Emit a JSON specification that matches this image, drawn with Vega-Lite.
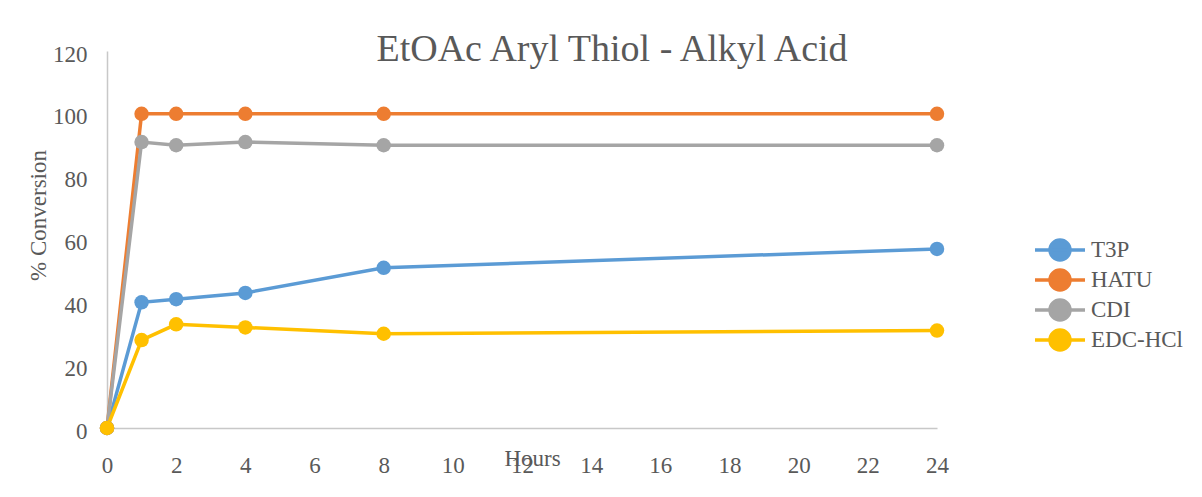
{
  "$schema": "https://vega.github.io/schema/vega-lite/v6.json",
  "autosize": "none",
  "width": 830,
  "height": 377,
  "padding": {"left": 107, "top": 51, "right": 265, "bottom": 69},
  "background": "white",
  "title": {
    "text": "EtOAc Aryl Thiol - Alkyl Acid",
    "font": "Liberation Serif",
    "fontSize": 38,
    "fontWeight": "normal",
    "color": "#595959",
    "anchor": "middle",
    "dx": 90,
    "offset": -26
  },
  "config": {
    "view": {"stroke": null},
    "font": "Liberation Serif"
  },
  "data": {
    "values": [
      {"hours": 0, "value": 0, "reagent": "T3P"},
      {"hours": 1, "value": 40, "reagent": "T3P"},
      {"hours": 2, "value": 41, "reagent": "T3P"},
      {"hours": 4, "value": 43, "reagent": "T3P"},
      {"hours": 8, "value": 51, "reagent": "T3P"},
      {"hours": 24, "value": 57, "reagent": "T3P"},
      {"hours": 0, "value": 0, "reagent": "HATU"},
      {"hours": 1, "value": 100, "reagent": "HATU"},
      {"hours": 2, "value": 100, "reagent": "HATU"},
      {"hours": 4, "value": 100, "reagent": "HATU"},
      {"hours": 8, "value": 100, "reagent": "HATU"},
      {"hours": 24, "value": 100, "reagent": "HATU"},
      {"hours": 0, "value": 0, "reagent": "CDI"},
      {"hours": 1, "value": 91, "reagent": "CDI"},
      {"hours": 2, "value": 90, "reagent": "CDI"},
      {"hours": 4, "value": 91, "reagent": "CDI"},
      {"hours": 8, "value": 90, "reagent": "CDI"},
      {"hours": 24, "value": 90, "reagent": "CDI"},
      {"hours": 0, "value": 0, "reagent": "EDC-HCl"},
      {"hours": 1, "value": 28, "reagent": "EDC-HCl"},
      {"hours": 2, "value": 33, "reagent": "EDC-HCl"},
      {"hours": 4, "value": 32, "reagent": "EDC-HCl"},
      {"hours": 8, "value": 30, "reagent": "EDC-HCl"},
      {"hours": 24, "value": 31, "reagent": "EDC-HCl"}
    ]
  },
  "encoding": {
    "x": {
      "field": "hours",
      "type": "quantitative",
      "scale": {"domain": [0, 24], "nice": false, "zero": false},
      "axis": {
        "values": [0, 2, 4, 6, 8, 10, 12, 14, 16, 18, 20, 22, 24],
        "title": "Hours",
        "titleFont": "Liberation Serif",
        "titleFontSize": 23,
        "titleFontWeight": "normal",
        "titleColor": "#595959",
        "titleX": 425,
        "titleY": 19,
        "titleBaseline": "top",
        "labelFont": "Liberation Serif",
        "labelFontSize": 23,
        "labelColor": "#595959",
        "labelPadding": 26,
        "ticks": false,
        "grid": false,
        "domainColor": "#c8c8c8",
        "domainWidth": 1.5,
        "labelFlush": false
      }
    },
    "y": {
      "field": "value",
      "type": "quantitative",
      "scale": {"domain": [0, 120], "nice": false},
      "axis": {
        "values": [0, 20, 40, 60, 80, 100, 120],
        "title": "% Conversion",
        "titleFont": "Liberation Serif",
        "titleFontSize": 23,
        "titleFontWeight": "normal",
        "titleColor": "#595959",
        "titleX": -69,
        "titleY": 164,
        "titleAngle": -90,
        "titleBaseline": "middle",
        "labelFont": "Liberation Serif",
        "labelFontSize": 23,
        "labelColor": "#595959",
        "labelPadding": 20,
        "labelOffset": 3,
        "ticks": false,
        "grid": false,
        "domainColor": "#c8c8c8",
        "domainWidth": 1.5
      }
    },
    "color": {
      "field": "reagent",
      "type": "nominal",
      "sort": ["T3P", "HATU", "CDI", "EDC-HCl"],
      "scale": {
        "domain": ["T3P", "HATU", "CDI", "EDC-HCl"],
        "range": ["#5B9BD5", "#ED7D31", "#A5A5A5", "#FFC000"]
      },
      "legend": {
        "title": null,
        "orient": "none",
        "legendX": 941,
        "legendY": 187,
        "symbolType": "M -2.5 0 L 2.5 0 M -1 0 A 1 1 0 1 1 1 0 A 1 1 0 1 1 -1 0 Z",
        "symbolSize": 400,
        "symbolStrokeWidth": 3.5,
        "labelFont": "Liberation Serif",
        "labelFontSize": 23,
        "labelColor": "#595959",
        "labelOffset": 19,
        "rowPadding": -4
      }
    }
  },
  "layer": [
    {"mark": {"type": "line", "strokeWidth": 3.5}},
    {"mark": {"type": "point", "filled": true, "size": 210, "opacity": 1}}
  ]
}
